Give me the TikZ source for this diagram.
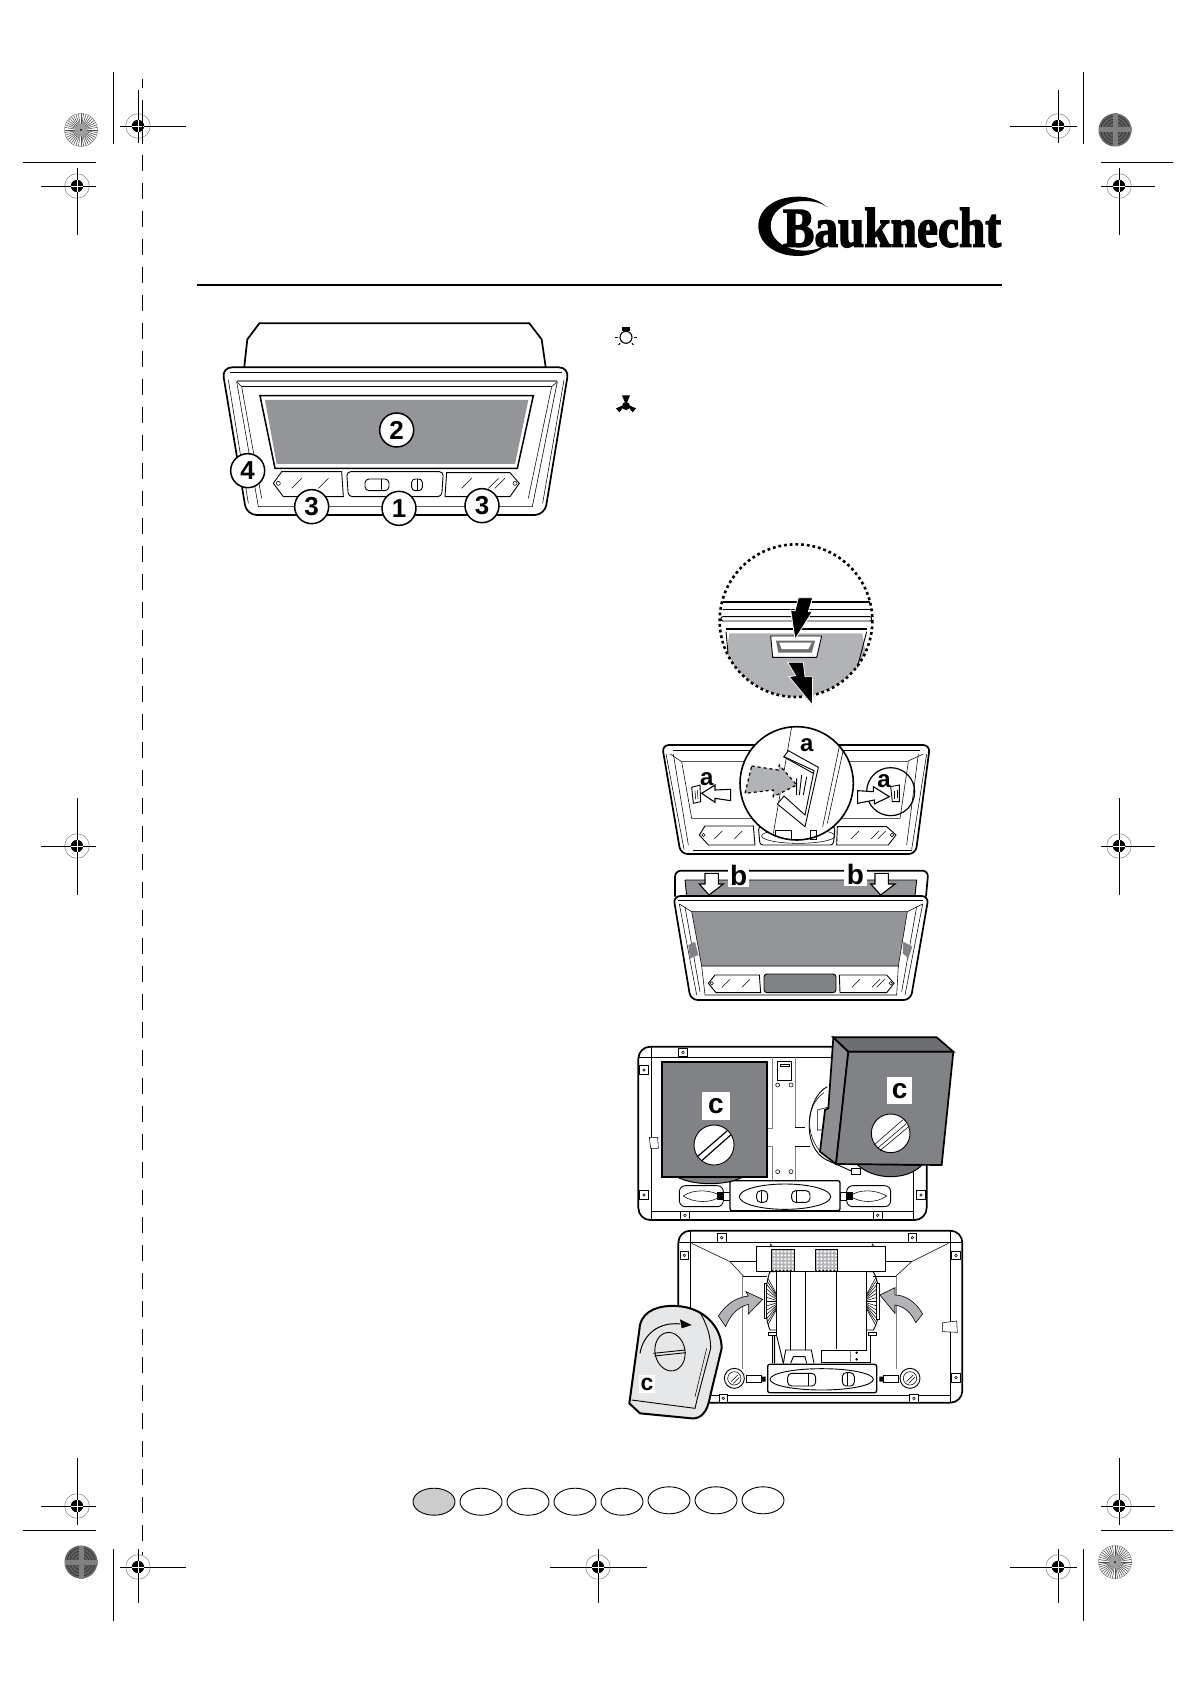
\documentclass[tikz,border=0pt]{standalone}
\usepackage{fontspec}
\setsansfont{Liberation Sans}
\newfontfamily\logofont[FakeBold=2.6]{Liberation Serif Bold}
\usetikzlibrary{positioning}
\definecolor{panelgray}{HTML}{939598}
\definecolor{lightpanel}{HTML}{B1B3B6}
\definecolor{filtergray}{HTML}{808285}
\definecolor{sidegray}{HTML}{8C8E91}
\definecolor{topgray}{HTML}{6D6E71}
\definecolor{sheetgray}{HTML}{E6E7E8}
\tikzset{
  cropline/.style={line width=.9pt},
  thinline/.style={line width=.55pt},
  midline/.style={line width=.9pt},
  outline/.style={line width=1.7pt},
  grayline/.style={line width=.7pt,draw=gray},
  numcircle/.style={circle,draw,fill=white,line width=1.5pt,minimum size=34pt,inner sep=0pt,font=\sffamily\bfseries\fontsize{26}{26}\selectfont},
  letterbox/.style={fill=white,inner sep=0pt,font=\sffamily\bfseries\fontsize{28}{28}\selectfont},
  lettertag/.style={inner sep=0pt,font=\sffamily\bfseries\fontsize{24}{24}\selectfont},
  whitearrow/.style={draw,fill=white,line width=1.1pt,line join=miter},
  blackarrow/.style={draw=white,fill=black,line width=.8pt},
  grayarrow/.style={draw,fill=lightpanel,line width=.6pt},
  zone/.style={x=.33333pt,y=-.33333pt},
}
\newcommand{\fixdot}[2]{%
  \draw[thinline,fill=white] (#1-13,#2-13) rectangle (#1+13,#2+13);
  \draw[thinline] (#1,#2) circle (4);
}
\begin{document}
\begin{tikzpicture}[x=1pt,y=-1pt]
\useasboundingbox (0,0) rectangle (1191,1685);

% crop marks
\foreach \cx/\cy/\xa/\xb/\ya/\yb in {138/126/120/186/90/143, 77/186/41/96/168/235, 1058/126/1010/1077/90/143, 1119/186/1101/1155/168/235,
    77/846/41/96/798/895, 1119/846/1101/1155/798/895, 77/1506/41/96/1458/1525, 1119/1506/1101/1155/1458/1525,
    138/1567/120/186/1549/1603, 1058/1567/1010/1077/1549/1603, 598/1567/550/647/1549/1603} {
    \draw[line width=.5pt,draw=gray] (\cx,\cy) circle (12.3);
    \draw[cropline] (\xa,\cy) -- (\xb,\cy);
    \draw[cropline] (\cx,\ya) -- (\cx,\yb);
    \fill (\cx,\cy) circle (6.2);
    \draw[white,line width=.8pt] (\cx-6.2,\cy) -- (\cx+6.2,\cy) (\cx,\cy-6.2) -- (\cx,\cy+6.2);
}
\draw[cropline] (113,72) -- (113,144);
\draw[cropline] (1083,72) -- (1083,144);
\draw[cropline] (113,1549) -- (113,1621);
\draw[cropline] (1083,1549) -- (1083,1621);
\draw[cropline] (23,162) -- (96,162);
\draw[cropline] (1101,162) -- (1173,162);
\draw[cropline] (23,1530) -- (96,1530);
\draw[cropline] (1101,1530) -- (1173,1530);

% fold line
\draw[cropline] (142.5,79) -- (142.5,88);
\draw[cropline] (142.5,100) -- (142.5,144);
\draw[cropline,dash pattern=on 15.96pt off 12pt] (142.5,155) -- (142.5,1541);
\draw[cropline] (142.5,1552) -- (142.5,1555);

% colour discs
\foreach \cx/\cy in {81/130, 1115/1562} {
    \draw[line width=.4pt,draw=gray] (\cx,\cy) circle (16.5);
    \foreach \a in {0,9,...,351} {
        \draw[line width=.55pt,draw=black!70] (\cx,\cy) ++(\a:3) -- ++(\a:13.5);
    }
    \fill[black!38] (\cx,\cy) circle (6);
    \fill (\cx,\cy) circle (1);
}
\foreach \cx/\cy in {1115/130, 81/1562} {
    \fill[black!62] (\cx,\cy) circle (16.5);
    \foreach \r in {5,8,11,14} {
        \draw[line width=.7pt,draw=black!80] (\cx,\cy) circle (\r);
    }
    \fill[black!50] (\cx-2.5,\cy-16.5) rectangle (\cx+2.5,\cy+16.5);
    \fill[black!50] (\cx-16.5,\cy-2.5) rectangle (\cx+16.5,\cy+2.5);
}

% brand
\begin{scope}[xshift=740pt,yshift=-170pt,zone]
\fill (262,112) .. controls (235,88) and (205,80) .. (175,80) .. controls (100,80) and (55,120) .. (55,168) .. controls (55,220) and (105,258) .. (175,258)
    .. controls (205,258) and (235,248) .. (262,222) .. controls (235,240) and (205,245) .. (170,240) .. controls (125,232) and (92,205) .. (92,168)
    .. controls (92,130) and (125,102) .. (170,95) .. controls (205,90) and (240,95) .. (262,112);
\node[anchor=base west,inner sep=0pt,xscale=.845,transform shape,font=\logofont\fontsize{56}{56}\selectfont] (brand) at (128,230) {Bauknecht};
\end{scope}
\draw[line width=1.6pt] (197,285) -- (1002,285);

% hood front
\begin{scope}[xshift=180pt,yshift=-280pt,zone]
\draw[outline,fill=white] (192,268) -- (202,178) -- (238,130) -- (1048,130) -- (1085,178) -- (1098,268);
\draw[outline,fill=white,rounded corners=10] (126,262) -- (200,705) -- (1094,705) -- (1167,262) -- cycle;
\draw[midline] (150,278) -- (1145,278);
\draw[grayline,line width=1.2pt] (170,303) -- (1130,303);
\draw[midline] (185,320) -- (1115,320);
\draw[thinline] (170,305) -- (235,680) -- (1057,680) -- (1132,305);
\draw[thinline] (170,305) -- (185,320) -- (245,655) (1132,305) -- (1115,320) -- (1045,655);
\draw[thinline] (145,300) -- (205,670) (1152,300) -- (1088,670);
\draw[line width=1.5pt,fill=white] (240,347) -- (1060,347) -- (1012,565) -- (285,565) -- cycle;
\fill[panelgray] (255,360) -- (1045,360) -- (1005,552) -- (290,552) -- cycle;
\draw[midline,fill=white] (305,575) -- (485,575) -- (490,650) -- (310,650) -- (280,610) -- cycle;
\draw[midline,fill=white,rounded corners=4] (500,575) -- (790,575) -- (785,650) -- (505,650) -- cycle;
\draw[midline,fill=white] (800,578) -- (990,578) -- (1018,610) -- (990,650) -- (795,650) -- cycle;
\draw[midline,rounded corners=4] (555,597) rectangle (627,632);
\draw[thinline] (605,597) -- (605,632);
\draw[midline,rounded corners=3.5] (695,597) rectangle (727,632);
\draw[thinline] (711,597) -- (711,632);
\draw[thinline] (295,610) circle (6) (1005,610) circle (6);
\foreach \gx/\gy in {350/610, 430/610, 860/610, 940/610, 960/610} {
    \draw[thinline] (\gx-15,\gy+15) -- (\gx+15,\gy-15);
}
\node[numcircle] (two) at (650,450) {2};
\node[numcircle] (four) at (203,572) {4};
\node[numcircle] (threea) at (395,680) {3};
\node[numcircle] (one) at (657,685) {1};
\node[numcircle] (threeb) at (906,677) {3};
% bulb and fan signs
\draw[line width=1.1pt] (1338,172) circle (18);
\fill (1325,142) rectangle (1351,152);
\foreach \a in {0,45,135,180} {
    \draw[line width=1pt] (1338,172) ++(\a:25) -- ++(\a:7);
}
\fill (1338,375) -- (1326,346) -- (1350,346) -- cycle;
\fill (1338,372) -- (1308,385) -- (1318,397) -- cycle;
\fill (1338,372) -- (1368,385) -- (1358,397) -- cycle;
\fill (1338,378) circle (12);
\end{scope}

% latch release
\begin{scope}[xshift=640pt,yshift=-530pt,zone]
\begin{scope}
\clip (468,272) circle (228);
\fill[lightpanel] (268,310) -- (667,310) -- (700,510) -- (240,510) -- cycle;
\end{scope}
\draw[line width=2.6pt,dash pattern=on 2.8pt off 2.9pt] (468,272) circle (229);
\draw[line width=2.2pt] (248,215) -- (690,215);
\draw[midline] (248,237) -- (690,237);
\draw[midline,rounded corners=2,fill=white] (243,260) rectangle (695,273);
\draw[line width=1.3pt] (258,297) -- (680,297);
\draw[midline] (258,305) -- (264,368);
\draw[midline] (680,305) -- (652,412);
\draw[line width=.9pt,draw=black,fill=white] (392,318) -- (545,318) -- (530,382) -- (398,382) -- cycle;
\fill[topgray] (408,332) -- (525,332) -- (515,368) -- (415,368) -- cycle;
\fill[white] (418,338) -- (515,338) -- (505,357) -- (425,357) -- cycle;
\draw[blackarrow] (475,203) -- (518,203) -- (505,245) -- (517,245) -- (465,328) -- (452,240) -- (465,243) -- cycle;
\draw[blackarrow] (443,397) -- (490,397) -- (495,440) -- (518,440) -- (517,525) -- (447,440) -- (467,437) -- cycle;

% frame with hooks
\draw[outline,fill=white,rounded corners=7] (66,645) -- (122,972) -- (827,972) -- (870,645) -- cycle;
\draw[thinline] (100,660) -- (840,660);
\draw[thinline] (90,672) -- (125,695) -- (800,695) -- (850,672);
\draw[thinline] (125,695) -- (155,865) -- (780,865) -- (805,695);
\draw[thinline] (78,672) -- (132,958) (860,672) -- (815,958);
\draw[thinline] (160,962) -- (815,962);
\draw[thinline] (100,672) -- (145,945) (835,672) -- (800,945);
\draw[midline,fill=white] (195,888) -- (340,888) -- (345,945) -- (205,945) -- (178,915) -- cycle;
\draw[midline,fill=white] (592,890) -- (740,890) -- (768,915) -- (745,945) -- (590,945) -- cycle;
\draw[midline,rounded corners=3] (355,890) -- (585,890) -- (580,945) -- (360,945) -- cycle;
\draw[thinline] (475,918) ellipse (110 and 22);
\draw[thinline] (430,908) rectangle (455,925) (510,905) rectangle (530,928);
\foreach \gx/\gy in {235/915, 295/915, 645/915, 705/915, 725/915} {
    \draw[thinline] (\gx-12,\gy+12) -- (\gx+12,\gy-12);
}
\draw[thinline] (190,915) circle (5) (756,915) circle (5);
\draw[line width=1.2pt] (752,785) circle (72);
\draw[midline,fill=white] (155,772) -- (180,765) -- (182,815) -- (160,820) -- cycle;
\draw[thinline] (165,782) -- (167,808) (172,780) -- (174,806);
\draw[midline,fill=white] (752,770) -- (778,765) -- (778,815) -- (757,815) -- cycle;
\draw[thinline] (764,782) -- (764,806) (771,780) -- (771,805);
\draw[whitearrow] (185,790) -- (225,765) -- (225,780) -- (272,778) -- (272,812) -- (225,805) -- (225,817) -- cycle;
\draw[whitearrow] (653,782) -- (700,785) -- (700,770) -- (748,800) -- (703,822) -- (703,810) -- (653,820) -- cycle;
\node[lettertag] (taga) at (200,748) {a};
\node[lettertag] (tagb) at (732,752) {a};
\draw[line width=1.6pt,fill=white] (470,760) circle (170);
\begin{scope}
\clip (470,760) circle (170);
\draw[thinline] (455,590) -- (400,910);
\draw[thinline] (600,640) -- (548,890) (612,650) -- (562,880);
\draw[thinline] (365,918) .. controls (400,945) and (520,945) .. (575,918);
\draw[thinline] (405,900) rectangle (455,930) (510,900) rectangle (530,930);
\draw[midline,fill=white] (432,680) -- (445,662) -- (535,712) -- (495,890) -- (412,822) -- (432,798) -- (495,855) -- (522,722) -- cycle;
\draw[midline] (430,680) -- (520,730);
\end{scope}
\draw[line width=1.2pt,dashed,fill=lightpanel] (335,708) -- (415,720) -- (418,705) -- (470,765) -- (400,800) -- (400,780) -- (315,790) -- cycle;
\draw[midline] (470,745) -- (470,795) (485,735) -- (478,795) (500,740) -- (490,795);
\node[lettertag] (tagc) at (500,645) {a};

% filter panel hooked in
\draw[outline,fill=white,rounded corners=6] (105,1100) -- (105,1022) -- (865,1022) -- (858,1100);
\fill[panelgray] (135,1050) -- (830,1050) -- (825,1098) -- (140,1098) -- cycle;
\draw[midline] (135,1050) -- (830,1050) -- (825,1098) (135,1050) -- (140,1098);
\node[letterbox,minimum width=21pt,minimum height=24pt] (tagd) at (296,1036) {b};
\node[letterbox,minimum width=23pt,minimum height=23pt] (tage) at (646,1034) {b};
\draw[whitearrow] (195,1030) -- (235,1030) -- (235,1062) -- (250,1062) -- (207,1095) -- (178,1062) -- (195,1062) -- cycle;
\draw[whitearrow] (705,1030) -- (745,1030) -- (745,1062) -- (765,1062) -- (722,1095) -- (692,1062) -- (705,1062) -- cycle;
\draw[outline,fill=white,rounded corners=7] (100,1098) -- (152,1410) -- (812,1410) -- (866,1098) -- cycle;
\draw[thinline] (115,1112) -- (850,1112);
\fill[panelgray] (155,1145) -- (802,1145) -- (775,1308) -- (185,1308) -- cycle;
\draw[thinline] (155,1145) -- (185,1308) -- (775,1308) -- (802,1145) -- cycle;
\draw[thinline] (118,1122) -- (155,1145) (848,1122) -- (802,1145);
\draw[thinline] (118,1122) -- (170,1395) (848,1122) -- (795,1395);
\draw[thinline] (135,1130) -- (180,1385) (830,1130) -- (785,1385);
\draw[thinline] (185,1308) -- (195,1395) -- (770,1395) -- (775,1308);
\fill[filtergray] (145,1245) -- (165,1235) -- (175,1275) -- (150,1285) -- cycle;
\fill[filtergray] (790,1235) -- (817,1250) -- (805,1285) -- (788,1270) -- cycle;
\draw[midline,fill=white] (225,1335) -- (358,1335) -- (362,1388) -- (228,1388) -- (205,1360) -- cycle;
\draw[midline,fill=white] (598,1335) -- (740,1335) -- (762,1360) -- (740,1388) -- (600,1388) -- cycle;
\draw[midline,fill=filtergray,rounded corners=3] (372,1332) rectangle (588,1388);
\foreach \gx/\gy in {258/1360, 318/1360, 648/1360, 708/1360, 722/1360} {
    \draw[thinline] (\gx-12,\gy+12) -- (\gx+12,\gy-12);
}
\draw[thinline] (215,1360) circle (5) (752,1360) circle (5);
\end{scope}

% grease filters, underside
\begin{scope}[xshift=620pt,yshift=-1020pt,zone]
\draw[outline,fill=white,rounded corners=12] (55,80) rectangle (920,600);
\draw[midline] (93,80) -- (93,600) (880,80) -- (880,600) (55,112) -- (920,112) (93,575) -- (880,575);
\foreach \px/\py in {189/97, 72/150, 72/525, 195/586, 773/586, 903/525} {
    \fixdot{\px}{\py}
}
\draw[thinline,fill=white] (88,352) -- (113,352) -- (115,385) -- (92,385) -- cycle;
\draw[grayline] (458,112) -- (458,325) -- (442,325) (525,112) -- (525,322) (442,378) -- (458,378) -- (458,480) (525,378) -- (525,480);
\draw[midline] (525,322) -- (555,322) (525,378) -- (570,378);
\draw[thinline] (472,125) rectangle (515,180);
\draw[thinline] (482,132) rectangle (507,138);
\foreach \px/\py in {473/195, 513/195, 473/455, 513/455} {
    \draw[thinline] (\px,\py) circle (6);
}
% lamps and switch bar
\draw[midline,rounded corners=6] (178,497) rectangle (310,560);
\draw[thinline] (190,528) .. controls (220,505) and (280,510) .. (300,528) .. controls (280,550) and (220,550) .. (190,528);
\fill (290,517) rectangle (308,540);
\draw[midline,rounded corners=6] (680,497) rectangle (812,560);
\draw[thinline] (690,528) .. controls (720,505) and (770,510) .. (800,528) .. controls (770,550) and (720,550) .. (690,528);
\fill (682,517) rectangle (700,540);
\draw[thinline] (310,518) rectangle (330,540) (660,518) rectangle (680,540);
\draw[line width=1.3pt,fill=white,rounded corners=2] (330,482) rectangle (660,572);
\draw[midline] (495,530) ellipse (137 and 38);
\draw[midline,rounded corners=4] (410,512) rectangle (443,547) (515,512) rectangle (570,547);
\draw[thinline] (425,512) -- (425,547) (530,512) -- (530,547);

% left filter
\draw[line width=1pt,fill=filtergray] (170,470) .. controls (220,498) and (320,498) .. (370,470) -- cycle;
\draw[line width=1.7pt,fill=filtergray] (125,127) rectangle (442,470);
\draw[midline,fill=white] (282,375) circle (60);
\draw[line width=1.2pt] (232,410) -- (322,332) (245,422) -- (332,345);
\node[letterbox,minimum width=28pt,minimum height=28pt] (tagf) at (288,258) {c};

% right filter, tilted
\draw[midline] (622,200) .. controls (560,230) and (540,380) .. (620,420) -- (710,460);
\draw[thinline] (612,218) .. controls (550,260) and (555,370) .. (625,415);
\draw[thinline,fill=white] (592,270) -- (622,262) -- (622,330) -- (592,330) -- cycle;
\draw[midline,fill=white] (695,445) rectangle (720,462);
\draw[line width=1pt,fill=topgray] (710,432) .. controls (760,482) and (860,482) .. (905,436) -- cycle;
\draw[line width=1.7pt,fill=sidegray] (640,52) -- (685,95) -- (648,432) -- (600,395) -- (615,270) -- (625,265) -- cycle;
\draw[line width=1.7pt,fill=topgray] (640,52) -- (950,52) -- (1000,95) -- (685,95) -- cycle;
\draw[line width=1.7pt,fill=filtergray] (685,95) -- (1000,95) -- (965,435) -- (648,432) -- cycle;
\draw[midline,fill=white] (812,340) circle (58);
\draw[thinline] (762,375) -- (848,300) (772,385) -- (858,312) (780,392) -- (866,320);
\node[letterbox,minimum width=25pt,minimum height=27pt] (tagg) at (839,212) {c};

% second underside
\draw[outline,fill=white,rounded corners=12] (175,632) rectangle (1027,1148);
\draw[midline] (212,632) -- (212,1148) (990,632) -- (990,1148) (175,668) -- (1027,668) (212,1125) -- (990,1125);
\foreach \px/\py in {305/653, 877/653, 193/706, 1008/706, 1008/1073, 310/1135, 882/1135} {
    \fixdot{\px}{\py}
}
\draw[thinline,fill=white] (968,908) -- (1010,903) -- (1012,937) -- (968,935) -- cycle;
\draw[thinline] (215,670) -- (330,725) -- (370,768) (985,670) -- (875,725) -- (828,768);
\draw[midline] (330,725) -- (408,725) (797,725) -- (875,725) (370,768) -- (440,768) (760,768) -- (828,768);
\draw[grayline] (368,768) -- (368,1048) (830,768) -- (830,1048) (692,990) -- (692,1028);
% blower wheels
\begin{scope}
\clip (470,755) -- (450,755) .. controls (432,800) and (432,890) .. (450,930) -- (470,930) -- cycle;
\foreach \h in {-90,-75,...,90} {
    \draw[thinline] (470,{845+\h*.25}) -- (425,{845+\h*1.15});
}
\end{scope}
\begin{scope}
\clip (740,755) -- (760,755) .. controls (785,800) and (785,890) .. (760,930) -- (740,930) -- cycle;
\foreach \h in {-90,-75,...,90} {
    \draw[thinline] (740,{845+\h*.25}) -- (785,{845+\h*1.15});
}
\end{scope}
\draw[midline] (470,755) -- (450,755) .. controls (432,800) and (432,890) .. (450,930) -- (470,930);
\draw[midline] (740,755) -- (760,755) .. controls (785,800) and (785,890) .. (760,930) -- (740,930);
\draw[midline,fill=white] (433,790) rectangle (440,895) (770,790) rectangle (778,897);
\draw[midline,fill=white] (445,937) rectangle (470,947) (745,937) rectangle (770,947);
\draw[midline] (458,947) -- (458,1030) (464,947) -- (464,1030) (470,947) -- (490,1030);
\draw[midline] (751,947) -- (751,1028) -- (604,1028) -- (604,990) -- (740,990) -- (740,755);
\draw[midline] (470,755) -- (470,945) (511,755) -- (511,990) (556,755) -- (556,990) (650,755) -- (650,988);
\draw[midline] (490,1030) -- (497,990) -- (574,990) -- (582,1030) (512,1030) -- (520,1010) -- (555,1010) -- (560,1030);
\fill (710,998) circle (4) (710,1018) circle (4);
\draw[midline,fill=white] (408,680) rectangle (797,755);
\draw[thinline] (450,680) -- (452,672) -- (458,680) (755,680) -- (757,672) -- (763,680);
\foreach \dx in {455,585} {
    \draw[line width=.7pt,draw=black,fill=lightpanel] (\dx,688) rectangle (\dx+67,752);
    \foreach \ix in {8,19,...,63} {
        \foreach \iy in {7,18,...,62} {
            \fill[white] (\dx+\ix,688+\iy) circle (3.6);
        }
    }
}
% switch bar and lamps
\draw[line width=1.3pt,fill=white,rounded corners=2] (443,1033) rectangle (770,1118);
\draw[midline] (605,1078) ellipse (155 and 32);
\draw[midline,rounded corners=4] (503,1060) rectangle (587,1098) (667,1058) rectangle (703,1098);
\draw[thinline] (565,1060) -- (565,1098) (682,1058) -- (682,1098);
\draw[midline] (378,1065) rectangle (425,1088) (790,1065) rectangle (835,1088);
\fill (425,1070) rectangle (437,1085) (778,1070) rectangle (790,1085);
\draw[midline] (343,1075) circle (30) (870,1075) circle (30);
\draw[thinline] (343,1075) circle (20) (870,1075) circle (20);
\draw[thinline] (333,1085) -- (353,1065) (860,1085) -- (880,1065) (340,1090) -- (358,1072) (866,1090) -- (884,1072);
% knob filter, brought up by hand
\draw[grayarrow] (295,888) .. controls (320,850) and (350,832) .. (385,828) -- (378,815) -- (428,838) -- (385,882) -- (385,853) .. controls (355,860) and (330,885) .. (317,920) -- cycle;
\draw[grayarrow] (780,825) -- (825,803) -- (825,825) .. controls (860,825) and (890,850) .. (908,882) -- (887,908) .. controls (875,880) and (855,860) .. (825,855) -- (825,880) -- cycle;
\draw[line width=2pt,fill=sheetgray,line join=round] (28,1150) -- (60,915) .. controls (70,870) and (120,855) .. (170,858) .. controls (250,862) and (305,920) .. (305,985) -- (270,1130) .. controls (262,1180) and (240,1197) .. (215,1195) -- (60,1180) -- cycle;
\draw[midline] (240,878) .. controls (262,915) and (272,950) .. (272,985) -- (232,1135) -- (225,1165) -- (35,1140);
\draw[thinline] (260,985) -- (225,1130);
\draw[midline,fill=sheetgray,rotate around={10:(150,995)}] (150,995) ellipse (45 and 58);
\draw[midline] (100,1000) -- (195,990) (103,1008) -- (197,998);
\draw[line width=1pt] (60,1000) .. controls (70,940) and (120,905) .. (180,912);
\fill (215,915) -- (180,898) -- (185,925) -- cycle;
\node[letterbox,minimum width=16pt,minimum height=18pt,font=\sffamily\bfseries\fontsize{23}{23}\selectfont] (tagh) at (81,1093) {c};
\end{scope}

% language tabs
\foreach \lx/\ly/\lfill in {434/1501.7/black!20, 481/1501.7/white, 528/1501.7/white, 575/1501.7/white, 622/1501.7/white, 669/1500.3/white, 716/1500.3/white, 763/1500.3/white} {
    \draw[line width=.9pt,fill=\lfill] (\lx,\ly) ellipse (21 and 13.5);
}
\end{tikzpicture}
\end{document}
